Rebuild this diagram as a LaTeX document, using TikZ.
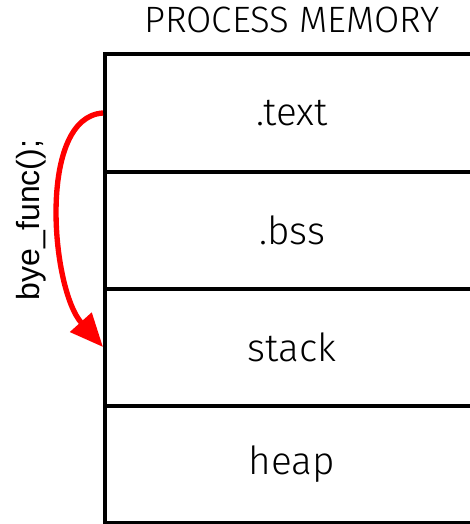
\documentclass[tikz,border=0pt]{standalone}
\usepackage{fontspec}
\setmainfont{Fira Sans Light}
\newfontfamily\callfont{Liberation Sans}
\usetikzlibrary{arrows.meta}

\begin{document}
\begin{tikzpicture}[x=0.75pt, y=-0.75pt, node distance=87.75pt,
	seg/.style={rectangle, draw, line width=3pt, minimum width=280.5pt, minimum height=87.75pt, inner sep=0pt, font=\fontsize{29}{33}\selectfont},
	jump/.style={draw=red, line width=4pt, -{Triangle[length=25pt, width=21pt]}}]
					\useasboundingbox (0,0) rectangle (470,524);

					\node[seg] (text) at (292,113) {.text};
					\node[seg] (bss)[below of = text] {.bss};
					\node[seg] (stack)[below of = bss] {stack};
					\node[seg] (heap)[below of = stack] {heap};

					\node (title)[above of = text, node distance=70pt, font=\fontsize{27.5}{31}\selectfont] {PROCESS MEMORY};
					\node (call)[rotate=90, font=\callfont\fontsize{24}{28}\selectfont] at (31,220) {bye\_func();};

					\draw[jump] (text.west) .. controls +(-66,4) and +(-52,-58) .. (stack.west);
				\end{tikzpicture}
\end{document}
